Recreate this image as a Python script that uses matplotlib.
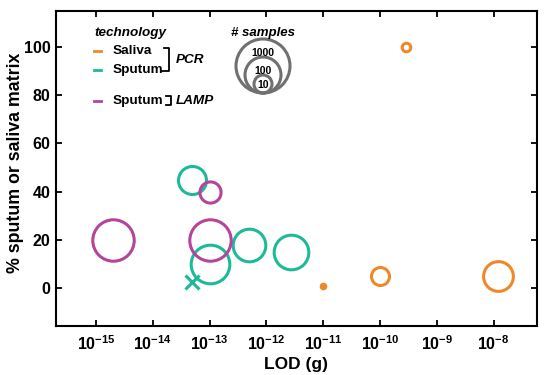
import numpy as np
import matplotlib
matplotlib.use("Agg")
import matplotlib.pyplot as plt
import matplotlib.ticker as ticker
from matplotlib.patches import Circle

plt.rcParams["font.family"] = ["Liberation Sans", "DejaVu Sans"]
plt.rcParams["font.weight"] = "bold"
plt.rcParams["mathtext.fontset"] = "custom"
plt.rcParams["mathtext.bf"] = "Liberation Sans:bold"
plt.rcParams["mathtext.rm"] = "Liberation Sans:bold"

ORANGE = "#F0882A"
TEAL = "#1DBA9A"
MAGENTA = "#B5449B"
GREY = "#707070"

# PCR, saliva
saliva_lod = [2.9e-10, 1e-10, 1.2e-8]
saliva_pct = [100, 5, 5]
saliva_n = [3, 10, 45]
saliva_dot_lod = [1e-11]
saliva_dot_pct = [1]

# PCR, sputum
sputum_lod = [5e-14, 1e-13, 5e-13, 2.7e-12]
sputum_pct = [45, 10, 18, 15]
sputum_n = [36, 140, 65, 84]
sputum_x_lod = [5e-14]
sputum_x_pct = [2.5]

# LAMP, sputum
lamp_lod = [2e-15, 1e-13, 1e-13]
lamp_pct = [20, 40, 20]
lamp_n = [200, 15, 200]

legend_n = [1000, 100, 10]
x_ticks = [1e-15, 1e-14, 1e-13, 1e-12, 1e-11, 1e-10, 1e-9, 1e-8]
y_ticks = [0, 20, 40, 60, 80, 100]

DPI = 100


def radius_px(n):
    # circle radius in pixels grows with log10 of sample count
    return 9 * np.log10(n)


def marker_pt(n):
    return 2 * radius_px(n) * 72 / DPI


fig = plt.figure(figsize=(5.5, 3.75), dpi=DPI)
ax = fig.add_axes([0.102, 0.132, 0.874, 0.839])

for lod, pct, n, col in [(saliva_lod, saliva_pct, saliva_n, ORANGE),
                         (sputum_lod, sputum_pct, sputum_n, TEAL),
                         (lamp_lod, lamp_pct, lamp_n, MAGENTA)]:
    for xi, yi, ni in zip(lod, pct, n):
        ax.plot([xi], [yi], marker="o", markersize=marker_pt(ni),
                markerfacecolor="none", markeredgecolor=col,
                markeredgewidth=2.2, linestyle="none")

ax.plot(saliva_dot_lod, saliva_dot_pct, marker="o", markersize=4.5,
        color=ORANGE, linestyle="none")
ax.plot(sputum_x_lod, sputum_x_pct, marker="x", markersize=10,
        markeredgewidth=2.2, color=TEAL, linestyle="none")

ax.set_xscale("log")
ax.set_xlim(10 ** -15.7, 10 ** -7.24)
ax.set_ylim(-15.5, 115)
ax.set_xticks(x_ticks)
ax.xaxis.set_minor_locator(ticker.NullLocator())
ax.xaxis.set_major_formatter(ticker.FuncFormatter(
    lambda v, p: r"$\mathbf{10^{%d}}$" % round(np.log10(v))))
ax.set_yticks(y_ticks)
ax.tick_params(direction="in", top=True, right=True, length=4.5,
               width=1.3, labelsize=11.5, pad=4)
ax.tick_params(axis="x", pad=6)
for s in ax.spines.values():
    s.set_linewidth(1.5)
ax.set_xlabel("LOD (g)", fontsize=12.5, fontweight="bold", labelpad=3)
ax.set_ylabel("% sputum or saliva matrix", fontsize=12.8, fontweight="bold")
ax.yaxis.set_label_coords(-0.066, 0.516)

# hand made legend, drawn in pixel coords
lg = fig.add_axes([0, 0, 1, 1])
lg.set_xlim(0, 550)
lg.set_ylim(375, 0)
lg.axis("off")
lg.patch.set_alpha(0)

lg.text(94, 33, "technology", fontsize=9.7, style="italic", va="center")
rows = [(51, ORANGE, "Saliva"), (70, TEAL, "Sputum"), (100.7, MAGENTA, "Sputum")]
for y, col, name in rows:
    lg.plot([94, 101], [y, y], color=col, lw=2)
    lg.text(113, y, name, fontsize=9.7, va="center")
# brackets
lg.plot([164, 169, 169, 161], [48, 48, 71, 71], color="black", lw=1.3)
lg.plot([166, 171, 171, 166], [96, 96, 105, 105], color="black", lw=1.3)
lg.text(176, 60, "PCR", fontsize=9.7, style="italic", va="center")
lg.text(176, 100.7, "LAMP", fontsize=9.7, style="italic", va="center")

lg.text(263, 33, "# samples", fontsize=9.5, style="italic", va="center",
        ha="center")
bottom = 93
for n in legend_n:
    r = radius_px(n)
    lg.add_patch(Circle((263, bottom - r), r, fill=False, ec=GREY, lw=2.2))
    ty = bottom - 2 * r + 14 if n > 10 else bottom - r + 1
    lg.text(263, ty, str(n), fontsize=7.5, ha="center", va="center")

fig.savefig("out.png", dpi=DPI)
